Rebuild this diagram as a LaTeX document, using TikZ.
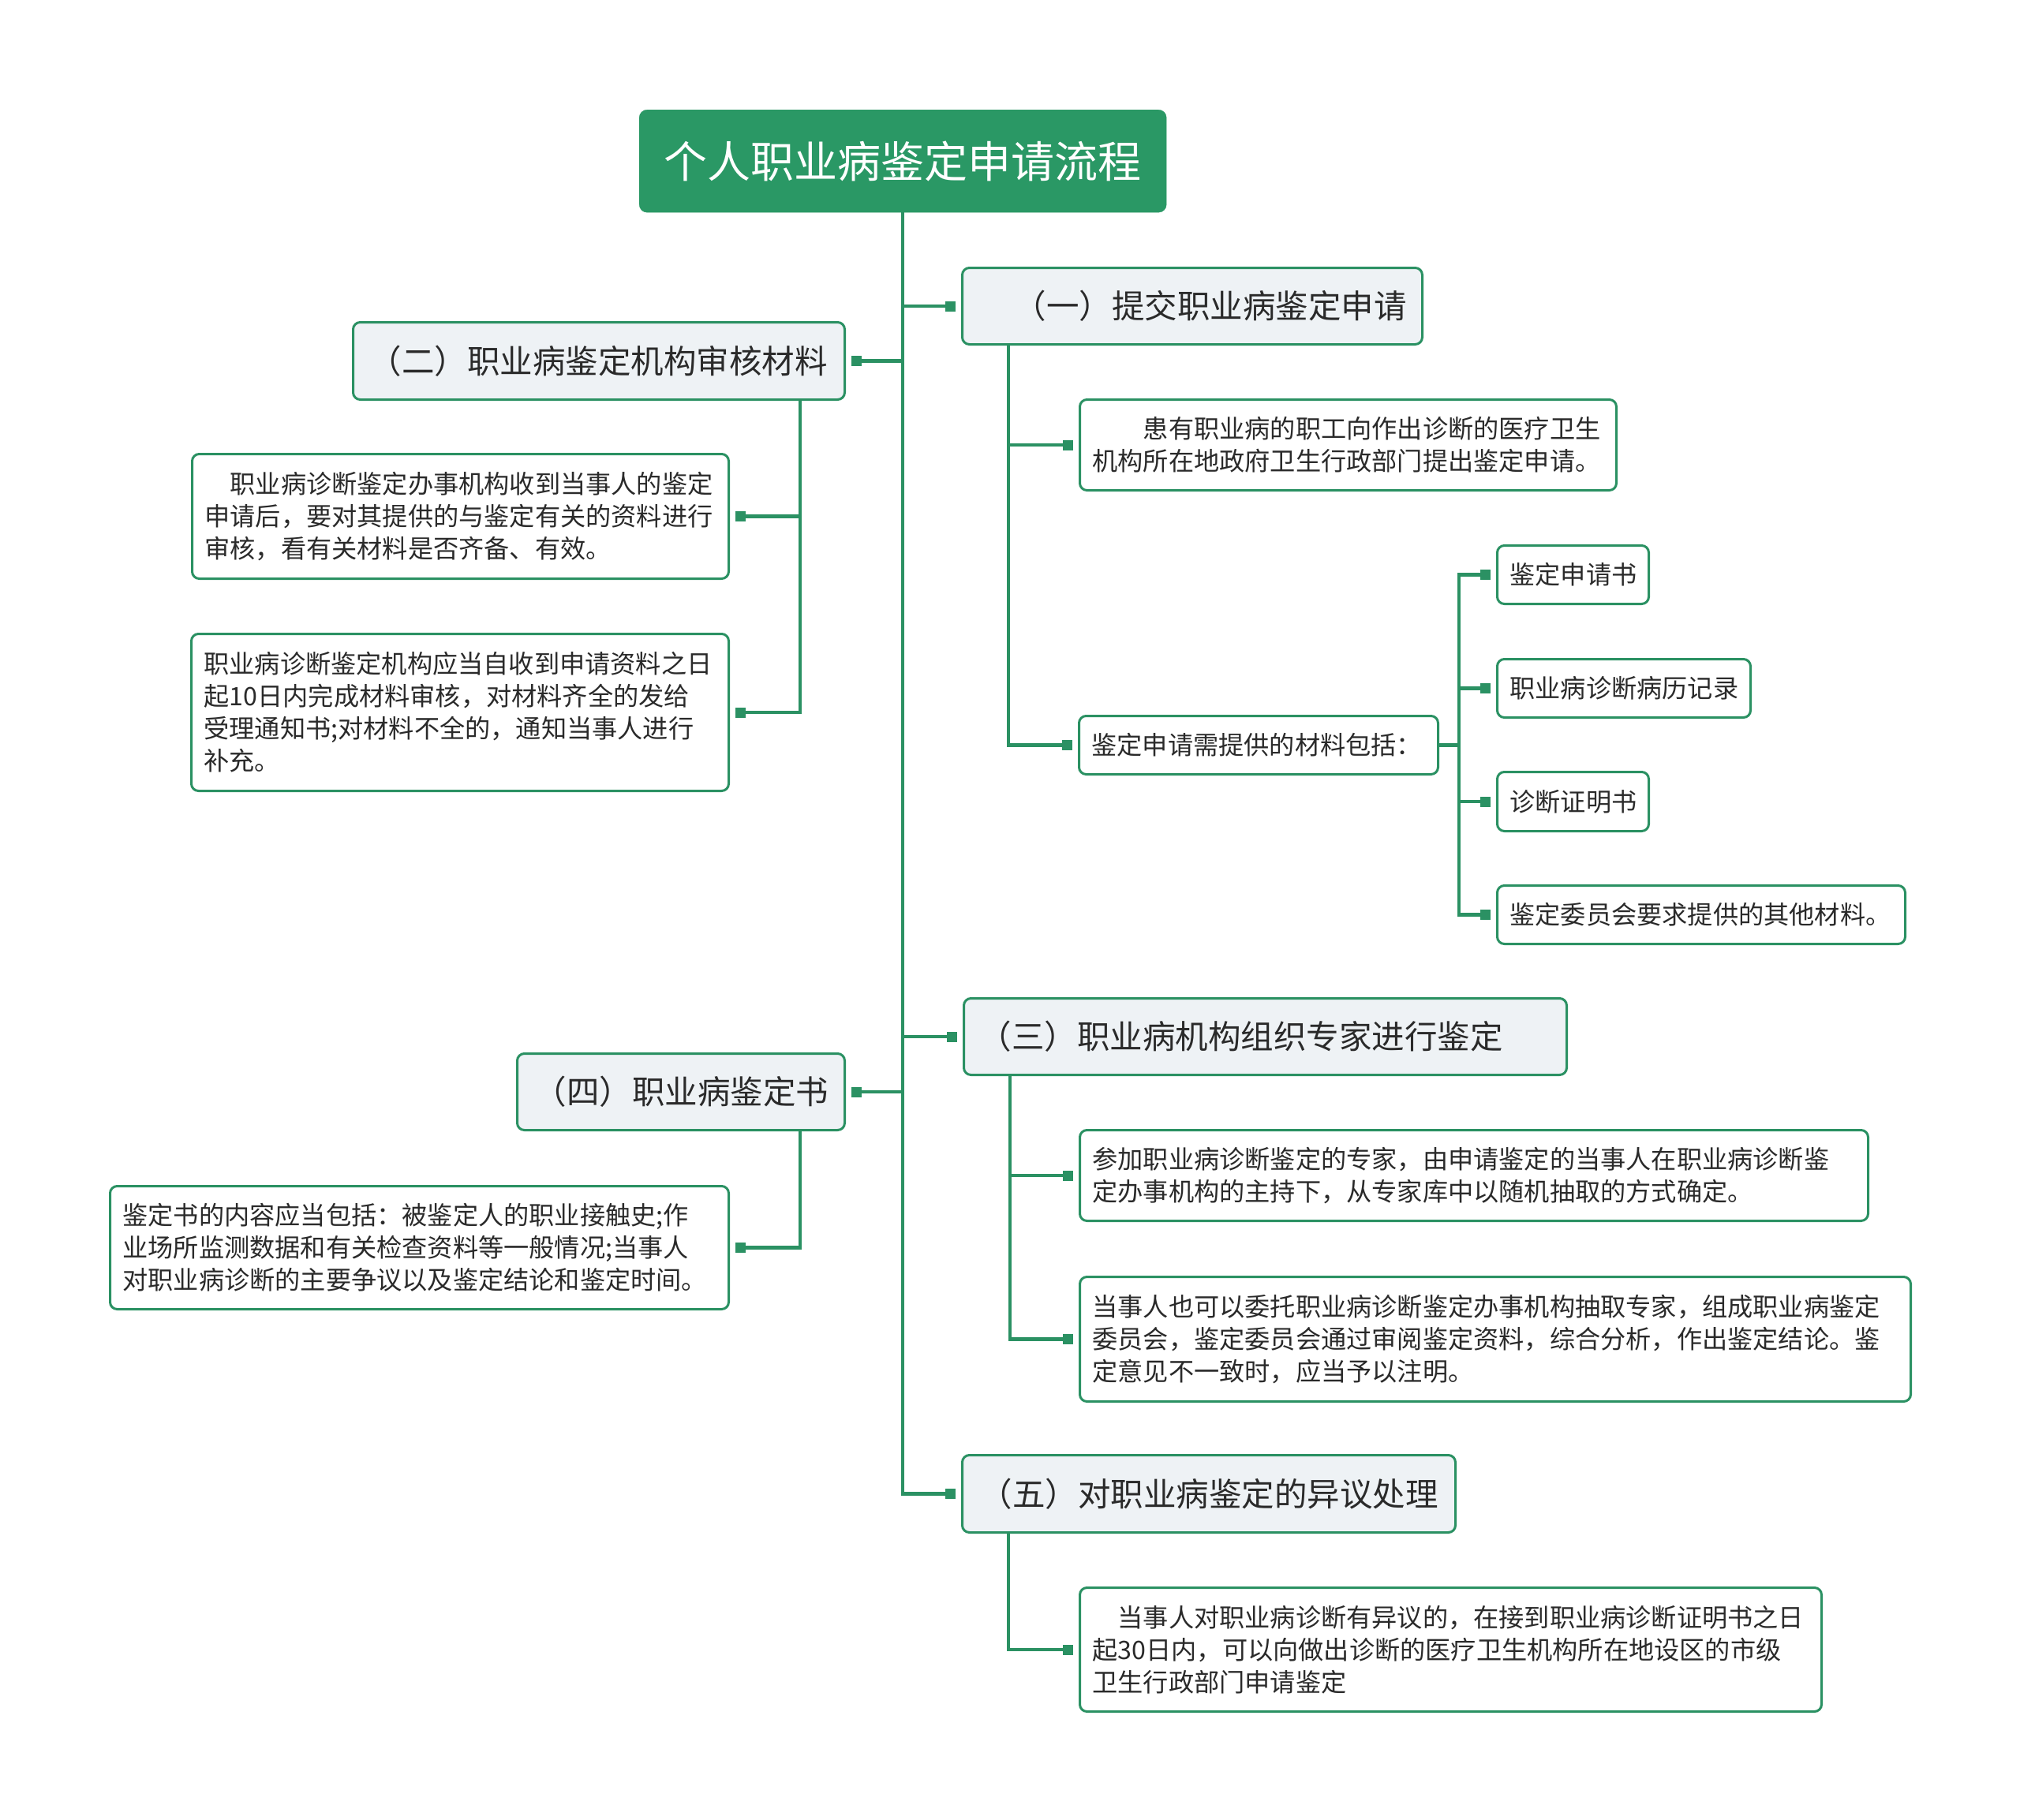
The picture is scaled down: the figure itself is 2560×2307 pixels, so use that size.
\documentclass[tikz,border=0pt]{standalone}
\usepackage{fontspec}
\newfontfamily\cjk{Noto Sans CJK SC}
\definecolor{gr}{HTML}{2B9163}
\definecolor{rootg}{HTML}{2A9865}
\definecolor{bfill}{HTML}{EEF2F5}
\definecolor{txt}{HTML}{2A2A2A}
\tikzset{
  rootbox/.style={draw=rootg, fill=rootg, rounded corners=10pt, anchor=north west, inner xsep=0pt, inner ysep=0pt, align=center, text=white, font=\cjk\fontsize{55pt}{64pt}\selectfont},
  branchbox/.style={draw=gr, line width=3pt, fill=bfill, rounded corners=9pt, anchor=north west, inner xsep=0pt, inner ysep=0pt, align=left, text=txt, font=\cjk\fontsize{41.5pt}{50pt}\selectfont},
  leafbox/.style={draw=gr, line width=3pt, fill=white, rounded corners=9pt, anchor=north west, inner xsep=16pt, inner ysep=0pt, align=left, text=txt, font=\cjk\fontsize{32.2pt}{41pt}\selectfont},
  conn/.style={draw=gr, line width=4.5pt},
  marker/.style={fill=gr, draw=none, rectangle, minimum size=13pt, inner sep=0pt}
}
\begin{document}
\begin{tikzpicture}[x=1pt, y=-1pt]
\useasboundingbox[fill=white] (0,0) rectangle (2560,2307);

% root
\node[rootbox, text width=668pt, minimum height=130pt] (root) at (810,139) {个人职业病鉴定申请流程};

% branches
\node[branchbox, text width=583pt, minimum height=97pt] (b1) at (1218,338) {\hspace*{65pt}（一）提交职业病鉴定申请};
\node[branchbox, text width=623pt, minimum height=98pt] (b2) at (446,407) {\hspace*{20pt}（二）职业病鉴定机构审核材料};
\node[branchbox, text width=764pt, minimum height=97pt] (b3) at (1220,1264) {\hspace*{19pt}（三）职业病机构组织专家进行鉴定};
\node[branchbox, text width=415pt, minimum height=97pt] (b4) at (654,1334) {\hspace*{21pt}（四）职业病鉴定书};
\node[branchbox, text width=625pt, minimum height=98pt] (b5) at (1218,1843) {\hspace*{22pt}（五）对职业病鉴定的异议处理};

% leaves of branch 1
\node[leafbox, text width=648pt, minimum height=115pt] (l1a) at (1367,505) {\hspace*{2em}患有职业病的职工向作出诊断的医疗卫生\\机构所在地政府卫生行政部门提出鉴定申请。};
\node[leafbox, text width=423pt, minimum height=74pt] (l1b) at (1366,906) {鉴定申请需提供的材料包括：};
\node[leafbox, text width=160pt, minimum height=74pt] (i1) at (1896,690) {鉴定申请书};
\node[leafbox, text width=289pt, minimum height=74pt] (i2) at (1896,834) {职业病诊断病历记录};
\node[leafbox, text width=160pt, minimum height=75pt] (i3) at (1896,977) {诊断证明书};
\node[leafbox, text width=485pt, minimum height=74pt] (i4) at (1896,1121) {鉴定委员会要求提供的其他材料。};

% leaves of branch 2
\node[leafbox, text width=648pt, minimum height=158pt] (l2a) at (242,574) {\hspace*{1em}职业病诊断鉴定办事机构收到当事人的鉴定\\申请后，要对其提供的与鉴定有关的资料进行\\审核，看有关材料是否齐备、有效。};
\node[leafbox, text width=649pt, minimum height=199pt] (l2b) at (241,802) {职业病诊断鉴定机构应当自收到申请资料之日\\起10日内完成材料审核，对材料齐全的发给\\受理通知书;对材料不全的，通知当事人进行\\补充。};

% leaves of branch 3
\node[leafbox, text width=967pt, minimum height=115pt] (l3a) at (1367,1431) {参加职业病诊断鉴定的专家，由申请鉴定的当事人在职业病诊断鉴\\定办事机构的主持下，从专家库中以随机抽取的方式确定。};
\node[leafbox, text width=1021pt, minimum height=158pt] (l3b) at (1367,1617) {当事人也可以委托职业病诊断鉴定办事机构抽取专家，组成职业病鉴定\\委员会，鉴定委员会通过审阅鉴定资料，综合分析，作出鉴定结论。鉴\\定意见不一致时，应当予以注明。};

% leaf of branch 4
\node[leafbox, text width=752pt, minimum height=156pt] (l4a) at (138,1502) {鉴定书的内容应当包括：被鉴定人的职业接触史;作\\业场所监测数据和有关检查资料等一般情况;当事人\\对职业病诊断的主要争议以及鉴定结论和鉴定时间。};

% leaf of branch 5
\node[leafbox, text width=908pt, minimum height=157pt] (l5a) at (1367,2011) {\hspace*{1em}当事人对职业病诊断有异议的，在接到职业病诊断证明书之日\\起30日内，可以向做出诊断的医疗卫生机构所在地设区的市级\\卫生行政部门申请鉴定};

% markers (right-side children)
\foreach \n in {b1,b3,b5,l1a,l1b,i1,i2,i3,i4,l3a,l3b,l5a}
  \node[marker, anchor=east] (m\n) at ([xshift=-7pt]\n.west) {};
% markers (left-side children)
\foreach \n in {b2,b4,l2a,l2b,l4a}
  \node[marker, anchor=west] (m\n) at ([xshift=7pt]\n.east) {};

% sub-trunk coordinates
\coordinate (s1) at ([xshift=60pt]b1.south west);
\coordinate (s2) at ([xshift=-58pt]b2.south east);
\coordinate (s3) at ([xshift=60pt]b3.south west);
\coordinate (s4) at ([xshift=-58pt]b4.south east);
\coordinate (s5) at ([xshift=60pt]b5.south west);
\coordinate (j) at ([xshift=25pt]l1b.east);

% trunk
\draw[conn] (root.south) |- (mb5.center);
\draw[conn] (root.south |- mb1.center) -- (mb1.center);
\draw[conn] (root.south |- mb3.center) -- (mb3.center);
\draw[conn] (root.south |- mb2.center) -- (mb2.center);
\draw[conn] (root.south |- mb4.center) -- (mb4.center);

% branch 1
\draw[conn] (s1) |- (ml1b.center);
\draw[conn] (s1 |- ml1a.center) -- (ml1a.center);
\draw[conn] (l1b.east) -- (j);
\draw[conn] (j) |- (mi1.center);
\draw[conn] (j) |- (mi4.center);
\draw[conn] (j |- mi2.center) -- (mi2.center);
\draw[conn] (j |- mi3.center) -- (mi3.center);

% branch 2
\draw[conn] (s2) |- (ml2b.center);
\draw[conn] (s2 |- ml2a.center) -- (ml2a.center);

% branch 3
\draw[conn] (s3) |- (ml3b.center);
\draw[conn] (s3 |- ml3a.center) -- (ml3a.center);

% branch 4
\draw[conn] (s4) |- (ml4a.center);

% branch 5
\draw[conn] (s5) |- (ml5a.center);
\end{tikzpicture}
\end{document}
